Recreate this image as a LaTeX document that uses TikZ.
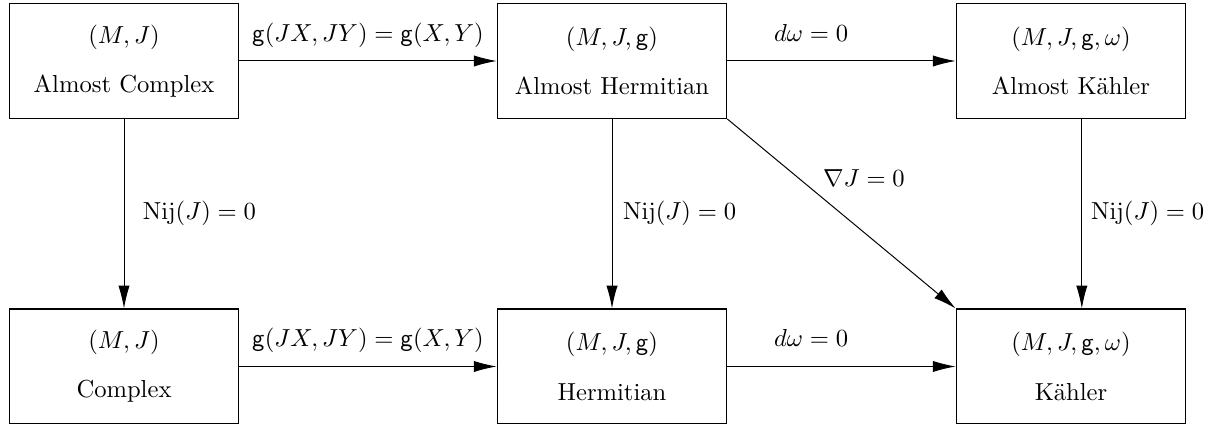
\documentclass[tikz,border=0pt]{standalone}
\usetikzlibrary{arrows.meta}
\begin{document}
\begin{tikzpicture}[x=0.4065pt,y=-0.4065pt,
  box/.style={draw, line width=0.45pt, minimum width=93.3pt, minimum height=46.7pt, inner sep=0pt, align=center},
  conn/.style={-{Latex[length=9.3pt,width=4.6pt]}, line width=0.4pt},
  lab/.style={inner sep=0pt, anchor=base},
  vlab/.style={inner sep=0pt, anchor=west}
]
\useasboundingbox (0,0) rectangle (1214,425);
\node[box] (ac) at (124,61) {$(M,J)$\\[8pt]Almost Complex};
\node[box] (ah) at (612,61) {$(M,J,\mathsf{g})$\\[8pt]Almost Hermitian};
\node[box] (ak) at (1071,61) {$(M,J,\mathsf{g},\omega)$\\[8pt]Almost K\"ahler};
\node[box] (c) at (124,366.5) {$(M,J)$\\[8pt]Complex};
\node[box] (h) at (612,366.5) {$(M,J,\mathsf{g})$\\[8pt]Hermitian};
\node[box] (k) at (1071,366.5) {$(M,J,\mathsf{g},\omega)$\\[8pt]K\"ahler};

\draw[conn] (ac) -- (ah) node[midway, lab, yshift=8pt] {$\mathsf{g}(JX,JY)=\mathsf{g}(X,Y)$};
\draw[conn] (ah) -- (ak) node[pos=0.367, lab, yshift=8pt] {$d\omega=0$};
\draw[conn] (c) -- (h) node[midway, lab, yshift=8pt] {$\mathsf{g}(JX,JY)=\mathsf{g}(X,Y)$};
\draw[conn] (h) -- (k) node[pos=0.367, lab, yshift=8pt] {$d\omega=0$};

\draw[conn] (ac) -- (c) node[midway, vlab, xshift=7.5pt] {$\mathrm{Nij}(J)=0$};
\draw[conn] (ah) -- (h) node[midway, vlab, xshift=4.3pt] {$\mathrm{Nij}(J)=0$};
\draw[conn] ([xshift=4.4pt]ak.south) -- ([xshift=4.4pt]k.north) node[midway, vlab, xshift=3.6pt] {$\mathrm{Nij}(J)=0$};
\draw[conn] (ah.south east) -- (k.north west) node[pos=0.31, vlab, xshift=10pt] {$\nabla J=0$};
\end{tikzpicture}
\end{document}
